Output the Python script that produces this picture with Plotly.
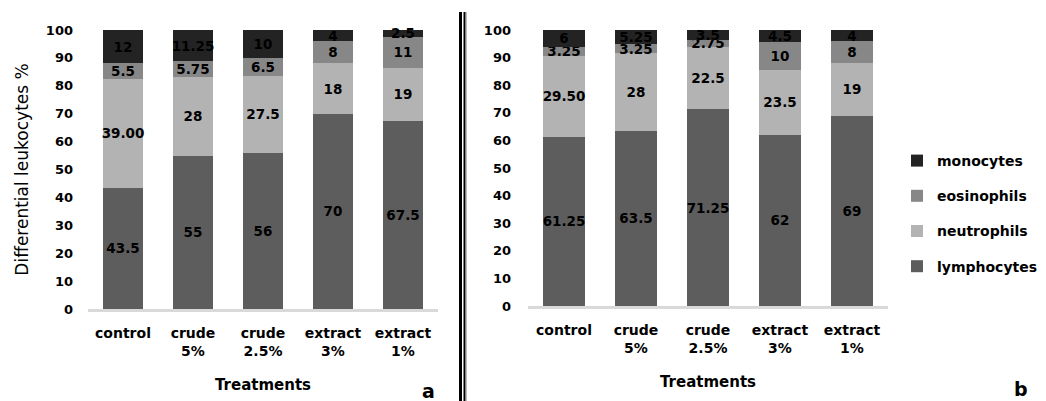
import plotly.graph_objects as go

# Treatment groups (x categories)
categories = ["control", "crude<br>5%", "crude<br>2.5%", "extract<br>3%", "extract<br>1%"]

# Panel a: differential leukocyte counts (%)
lymph_a = [43.5, 55, 56, 70, 67.5]
neut_a = [39.0, 28, 27.5, 18, 19]
eos_a = [5.5, 5.75, 6.5, 8, 11]
mono_a = [12, 11.25, 10, 4, 2.5]

# Panel b: differential leukocyte counts (%)
lymph_b = [61.25, 63.5, 71.25, 62, 69]
neut_b = [29.5, 28, 22.5, 23.5, 19]
eos_b = [3.25, 3.25, 2.75, 10, 8]
mono_b = [6, 5.25, 3.5, 4.5, 4]

# decimals shown in the value labels (None -> shortest form)
neut_a_dec = [2, None, None, None, None]
neut_b_dec = [2, None, None, None, None]

y_ticks = list(range(0, 101, 10))

series_names = ["lymphocytes", "neutrophils", "eosinophils", "monocytes"]
series_colors = ["#5d5d5d", "#b3b3b3", "#878787", "#232323"]
# legend lists the top segment first
legend_ranks = [4, 3, 2, 1]

FONT = "DejaVu Sans"
W, H = 1046, 401


def fmt(values, decimals=None):
    decimals = decimals or [None] * len(values)
    return [f"{v:.{d}f}" if d is not None else f"{v:g}" for v, d in zip(values, decimals)]


panel_a = [(lymph_a, None), (neut_a, neut_a_dec), (eos_a, None), (mono_a, None)]
panel_b = [(lymph_b, None), (neut_b, neut_b_dec), (eos_b, None), (mono_b, None)]

fig = go.Figure()
for panel, (xa, ya), show in [(panel_a, ("x", "y"), True), (panel_b, ("x2", "y2"), False)]:
    for (vals, dec), name, color, rank in zip(panel, series_names, series_colors, legend_ranks):
        fig.add_trace(go.Bar(
            x=categories, y=vals, name=name,
            xaxis=xa, yaxis=ya,
            legendgroup=name, showlegend=show, legendrank=rank,
            marker=dict(color=color, line=dict(width=0)),
            text=fmt(vals, dec),
            textposition="inside", insidetextanchor="middle", textangle=0,
            textfont=dict(family=FONT, size=13.5, color="#000000", weight="bold"),
            cliponaxis=False,
            hoverinfo="skip",
        ))


def px_x(p):
    return p / W


def px_y(p):
    return 1 - p / H


tick_font = dict(family=FONT, size=13, color="#000000", weight="bold")
cat_font = dict(family=FONT, size=14, color="#000000", weight="bold")
title_font = dict(family=FONT, size=15, color="#000000", weight="bold")

xaxis_common = dict(
    type="category", showgrid=False, zeroline=False, automargin=False,
    showline=True, linecolor="#d9d9d9", linewidth=3,
    ticks="", tickfont=cat_font, ticklabelstandoff=9,
    title=dict(text="Treatments", font=title_font, standoff=22),
    fixedrange=True,
)
yaxis_common = dict(
    range=[0, 100], tickvals=y_ticks, showgrid=False, zeroline=False,
    automargin=False, showline=False, ticks="", tickfont=tick_font,
    fixedrange=True,
)

fig.update_layout(
    width=W, height=H,
    margin=dict(l=0, r=0, t=0, b=0, autoexpand=False),
    paper_bgcolor="white", plot_bgcolor="white",
    barmode="stack", bargap=0.43,
    uniformtext=dict(minsize=13.5, mode="show"),
    xaxis=dict(domain=[px_x(88), px_x(438)], anchor="y", **xaxis_common),
    xaxis2=dict(domain=[px_x(528), px_x(888)], anchor="y2", **xaxis_common),
    yaxis=dict(domain=[px_y(309), px_y(30)], anchor="x", ticklabelstandoff=14,
               title=dict(text="Differential leukocytes %",
                          font=dict(family=FONT, size=17, color="#000000"),
                          standoff=12),
               **yaxis_common),
    yaxis2=dict(domain=[px_y(306), px_y(30)], anchor="x2", ticklabelstandoff=16,
                **yaxis_common),
    legend=dict(
        x=px_x(897), y=px_y(145), xanchor="left", yanchor="top",
        traceorder="grouped", tracegroupgap=14,
        font=dict(family=FONT, size=14, color="#000000", weight="bold"),
        bgcolor="rgba(0,0,0,0)", borderwidth=0,
        itemclick=False, itemdoubleclick=False,
    ),
    showlegend=True,
)

# panel letters
for letter, xp, yp in [("a", 428, 391), ("b", 1021, 389)]:
    fig.add_annotation(
        text=letter, x=px_x(xp), y=px_y(yp), xref="paper", yref="paper",
        showarrow=False, xanchor="center", yanchor="middle",
        font=dict(family=FONT, size=19, color="#000000", weight="bold"),
    )

# double rule separating the two panels
for xp, lw, col in [(460.5, 3, "#000000"), (464.5, 2, "#000000"), (466.5, 1, "#bdbdbd")]:
    fig.add_shape(
        type="line", xref="paper", yref="paper",
        x0=px_x(xp), x1=px_x(xp), y0=0, y1=px_y(12),
        line=dict(color=col, width=lw),
    )

fig.write_html("out.html")
